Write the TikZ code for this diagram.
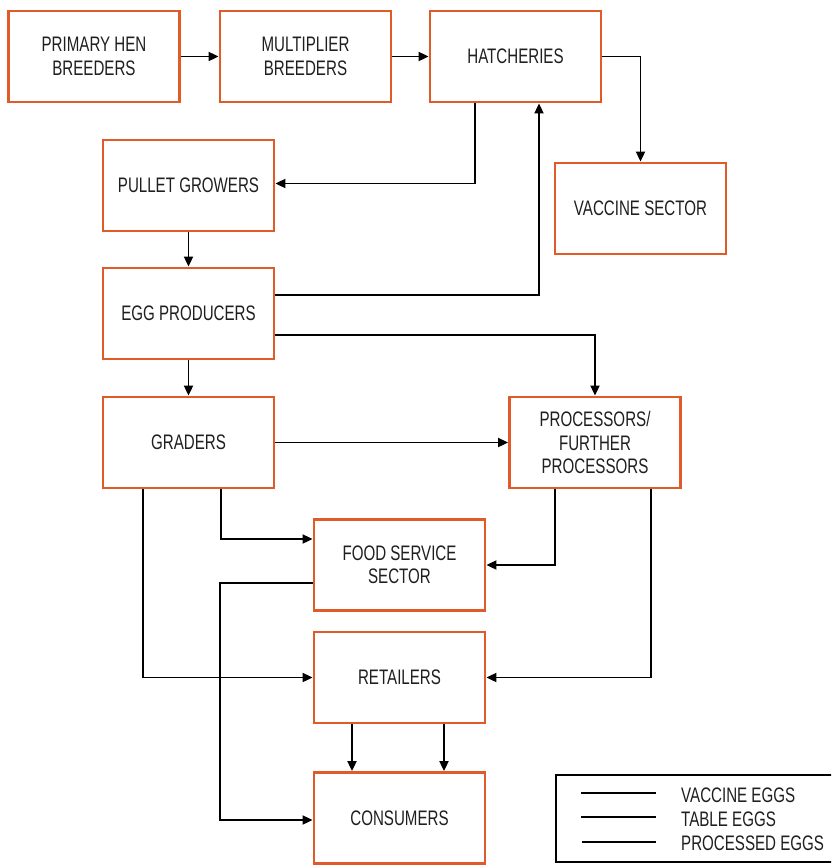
\documentclass[tikz,border=0pt]{standalone}
\usepackage{fontspec}
\setmainfont{Liberation Sans}[FakeStretch=0.72]
\usetikzlibrary{arrows.meta}
\definecolor{boxorange}{HTML}{E05A2A}
\tikzset{
  box/.style={draw=boxorange, line width=2.8pt, minimum width=171pt, minimum height=91pt,
    align=center, inner sep=0pt, font=\fontsize{21}{23.5}\selectfont, text=black!88},
  arr/.style={line width=1.8pt, -{Triangle[length=10pt,width=9pt]}},
  legline/.style={line width=1.8pt},
  legtext/.style={anchor=west, inner sep=0pt, font=\fontsize{21}{22}\selectfont, text=black!88}
}
\begin{document}
\begin{tikzpicture}[x=1pt,y=1pt]
\clip (0,0) rectangle (831,-865);
\fill[white] (0,0) rectangle (831,-865);
\node[box] (pri) at (94,-56.5) {PRIMARY HEN\\BREEDERS};
\node[box] (mul) at (305.5,-56.5) {MULTIPLIER\\BREEDERS};
\node[box] (hat) at (515.5,-56.5) {HATCHERIES};
\node[box] (vac) at (640.5,-208.5) {VACCINE SECTOR};
\node[box] (pul) at (188.5,-185.5) {PULLET GROWERS};
\node[box] (egg) at (188.5,-313.5) {EGG PRODUCERS};
\node[box] (gra) at (188.5,-442.5) {GRADERS};
\node[box] (pro) at (595,-442.5) {PROCESSORS/\\FURTHER\\PROCESSORS};
\node[box] (foo) at (399.5,-565) {FOOD SERVICE\\SECTOR};
\node[box] (ret) at (399.5,-677.5) {RETAILERS};
\node[box] (con) at (399.5,-818) {CONSUMERS};

\draw[arr] (pri.east) -- (mul.west);
\draw[arr] (mul.east) -- (hat.west);
\draw[arr] (hat.east) -| (vac.north);
\draw[arr] ([xshift=-40.5]hat.south) |- ([yshift=2]pul.east);
\draw[arr] ([yshift=18.5]egg.east) -| ([xshift=23.5]hat.south);
\draw[arr] ([yshift=-21.5]egg.east) -| (pro.north);
\draw[arr] (pul.south) -- (egg.north);
\draw[arr] (egg.south) -- (gra.north);
\draw[arr] (gra.east) -- (pro.west);
\draw[arr] ([xshift=32.5]gra.south) |- ([yshift=26]foo.west);
\draw[arr] ([xshift=-45.5]gra.south) |- (ret.west);
\draw[arr] ([xshift=-40]pro.south) |- (foo.east);
\draw[arr] ([xshift=56]pro.south) |- (ret.east);
\draw[arr] ([yshift=-18]foo.west) -- ++(-93,0) |- ([yshift=-2]con.west);
\draw[arr] ([xshift=-47.5]ret.south) -- ([xshift=-47.5]con.north);
\draw[arr] ([xshift=44.5]ret.south) -- ([xshift=44.5]con.north);

% legend
\node[draw=black, line width=2pt, minimum width=290pt, minimum height=87pt, anchor=north west, inner sep=0pt] (leg) at (555,-773.5) {};
\coordinate (l1a) at (581,-793); \coordinate (l1b) at (656,-793);
\coordinate (l2a) at (581,-817); \coordinate (l2b) at (656,-817);
\coordinate (l3a) at (582,-842); \coordinate (l3b) at (656,-842);
\draw[legline] (l1a) -- (l1b);
\draw[legline] (l2a) -- (l2b);
\draw[legline] (l3a) -- (l3b);
\node[legtext] (t1) at (681,-795) {VACCINE EGGS};
\node[legtext] (t2) at (681,-819) {TABLE EGGS};
\node[legtext] (t3) at (681,-843) {PROCESSED EGGS};
\end{tikzpicture}
\end{document}
